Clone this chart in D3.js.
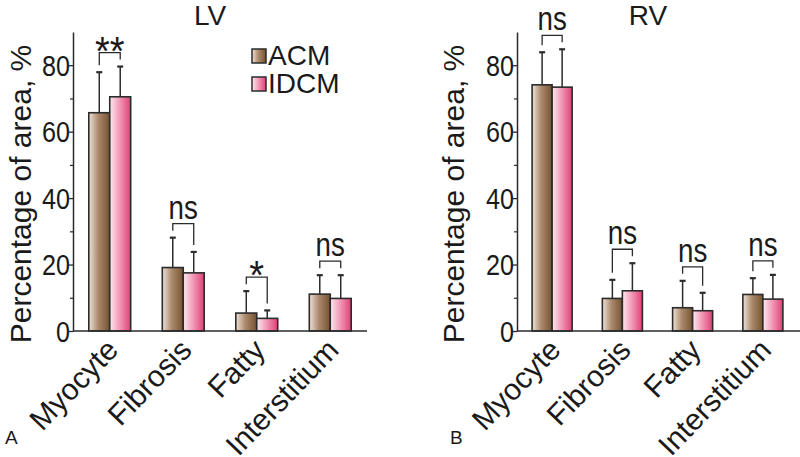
<!DOCTYPE html>
<html>
<head>
<meta charset="utf-8">
<title>LV / RV</title>
<script src="https://d3js.org/d3.v7.min.js"></script>
<style>
  body { margin: 0; background: #fff; }
  text { font-family: "Liberation Sans", Arial, sans-serif; fill: #1a1a1a; }
</style>
</head>
<body>
<div id="chart"></div>
<script>
// data
var categories = ["Myocyte", "Fibrosis", "Fatty", "Interstitium"];
var series = ["ACM", "IDCM"];

var lvAcmMean = [65.7, 19.1, 5.4, 11.1];
var lvAcmSd = [12.2, 9.0, 6.6, 5.7];
var lvIdcmMean = [70.5, 17.5, 3.8, 9.8];
var lvIdcmSd = [9.1, 6.3, 2.4, 7.0];
var lvSig = ["**", "ns", "*", "ns"];

var rvAcmMean = [74.1, 9.8, 7.0, 11.0];
var rvAcmSd = [9.8, 5.6, 8.1, 4.9];
var rvIdcmMean = [73.4, 12.1, 6.1, 9.6];
var rvIdcmSd = [11.4, 8.3, 5.4, 7.3];
var rvSig = ["ns", "ns", "ns", "ns"];

var majorTicks = [0, 20, 40, 60, 80];
var minorTicks = [10, 30, 50, 70];
var yTitle = "Percentage of area, %";

var width = 800, height = 457;
var svg = d3.select("#chart").append("svg")
  .attr("width", width).attr("height", height);

var defs = svg.append("defs");
function grad(id, stops) {
  var g = defs.append("linearGradient").attr("id", id)
    .attr("x1", 0).attr("x2", 1).attr("y1", 0).attr("y2", 0);
  stops.forEach(function(s) {
    g.append("stop").attr("offset", s[0]).attr("stop-color", s[1]);
  });
}
grad("gACM", [[0, "#eee2d7"], [0.45, "#ab8a6e"], [1, "#76522f"]]);
grad("gIDCM", [[0, "#fde9f0"], [0.45, "#f29cba"], [1, "#e03f76"]]);
var fills = { ACM: "url(#gACM)", IDCM: "url(#gIDCM)" };
var ink = "#2b2b2b";

var y = d3.scaleLinear().domain([0, 90]).range([331, 32]);

function drawPanel(p) {
  var g = svg.append("g");
  var x = d3.scaleBand().domain(categories).range([p.x0, p.x1])
    .paddingInner(0.43).paddingOuter(0.215);
  var xs = d3.scaleBand().domain(series).range([0, x.bandwidth()]);

  var rows = categories.map(function(c, i) {
    return {
      cat: c, sig: p.sig[i],
      vals: [
        { s: "ACM", m: p.acmMean[i], sd: p.acmSd[i] },
        { s: "IDCM", m: p.idcmMean[i], sd: p.idcmSd[i] }
      ]
    };
  });

  // error bars (upper only)
  rows.forEach(function(r) {
    r.vals.forEach(function(v) {
      var cx = x(r.cat) + xs(v.s) + xs.bandwidth() / 2;
      g.append("line").attr("x1", cx).attr("x2", cx)
        .attr("y1", y(v.m)).attr("y2", y(v.m + v.sd))
        .attr("stroke", ink).attr("stroke-width", 1.5);
      g.append("line").attr("x1", cx - 3).attr("x2", cx + 3)
        .attr("y1", y(v.m + v.sd)).attr("y2", y(v.m + v.sd))
        .attr("stroke", ink).attr("stroke-width", 2.2);
    });
  });

  // bars
  rows.forEach(function(r) {
    g.selectAll(null).data(r.vals).enter().append("rect")
      .attr("x", function(v) { return x(r.cat) + xs(v.s); })
      .attr("y", function(v) { return y(v.m); })
      .attr("width", xs.bandwidth())
      .attr("height", function(v) { return y(0) - y(v.m); })
      .attr("fill", function(v) { return fills[v.s]; })
      .attr("stroke", ink).attr("stroke-width", 1.6);
  });

  // significance brackets
  rows.forEach(function(r) {
    var cxs = r.vals.map(function(v) { return x(r.cat) + xs(v.s) + xs.bandwidth() / 2; });
    var tops = r.vals.map(function(v) { return y(v.m + v.sd); });
    var top = Math.min(tops[0], tops[1]) - 14;
    g.append("path")
      .attr("d", "M" + cxs[0] + "," + (tops[0] - 7) + "V" + top + "H" + cxs[1] + "V" + (tops[1] - 7))
      .attr("fill", "none").attr("stroke", ink).attr("stroke-width", 1.3);
    var star = r.sig.indexOf("*") >= 0;
    g.append("text")
      .attr("transform", "translate(" + (cxs[0] + cxs[1]) / 2 + "," + (star ? top + 12 : top - 5) + ")" +
        (star ? " scale(0.95,1)" : " scale(0.84,1)"))
      .attr("text-anchor", "middle")
      .style("font-size", star ? "40px" : "33px")
      .text(r.sig);
  });

  // y axis
  var ax = g.append("g").attr("transform", "translate(" + p.x0 + ",0)")
    .call(d3.axisLeft(y).tickValues(majorTicks).tickSize(4).tickSizeOuter(0).tickFormat(""));
  ax.select(".domain").attr("stroke", ink).attr("stroke-width", 1.5);
  ax.selectAll(".tick line").attr("stroke", ink).attr("stroke-width", 1.3);
  var axm = g.append("g").attr("transform", "translate(" + p.x0 + ",0)")
    .call(d3.axisLeft(y).tickValues(minorTicks).tickSize(3).tickFormat(""));
  axm.select(".domain").remove();
  axm.selectAll(".tick line").attr("stroke", ink).attr("stroke-width", 1.2);

  g.selectAll(null).data(majorTicks).enter().append("text")
    .attr("transform", function(d) { return "translate(" + (p.x0 - 3) + "," + y(d) + ") scale(0.84,1)"; })
    .attr("text-anchor", "end").attr("dy", "0.36em")
    .style("font-size", "30px")
    .text(function(d) { return d; });

  // x baseline
  g.append("line").attr("x1", p.x0).attr("x2", p.xEnd)
    .attr("y1", y(0)).attr("y2", y(0))
    .attr("stroke", ink).attr("stroke-width", 1.5);

  // category labels
  g.selectAll(null).data(categories).enter().append("text")
    .attr("transform", function(c) {
      return "translate(" + (x(c) + x.bandwidth() / 2 - 5) + "," + (y(0) + 6) + ") rotate(-46)";
    })
    .attr("text-anchor", "end").attr("dy", "0.7em")
    .style("font-size", "30px")
    .text(function(c) { return c; });

  // y title
  g.append("text")
    .attr("transform", "translate(" + p.titleX + ",194) rotate(-90)")
    .attr("text-anchor", "middle")
    .style("font-size", "30px")
    .text(yTitle);

  // panel title
  g.append("text").attr("x", p.headX).attr("y", 25)
    .attr("text-anchor", "middle").style("font-size", "28px")
    .text(p.head);

  g.append("text").attr("x", p.tagX).attr("y", 444)
    .style("font-size", "19px").text(p.tag);
}

drawPanel({ x0: 73, x1: 367, xEnd: 367, titleX: 31, headX: 210, head: "LV", tag: "A", tagX: 5,
  acmMean: lvAcmMean, acmSd: lvAcmSd, idcmMean: lvIdcmMean, idcmSd: lvIdcmSd, sig: lvSig });
drawPanel({ x0: 517, x1: 798, xEnd: 800, titleX: 464, headX: 648, head: "RV", tag: "B", tagX: 450,
  acmMean: rvAcmMean, acmSd: rvAcmSd, idcmMean: rvIdcmMean, idcmSd: rvIdcmSd, sig: rvSig });

// legend
var leg = svg.append("g");
series.forEach(function(s, i) {
  leg.append("rect").attr("x", 252).attr("y", 49 + i * 28)
    .attr("width", 14).attr("height", 14)
    .attr("fill", fills[s]).attr("stroke", ink).attr("stroke-width", 1.5);
  leg.append("text").attr("x", 268).attr("y", 65 + i * 28)
    .style("font-size", "28px").text(s);
});
</script>
</body>
</html>
